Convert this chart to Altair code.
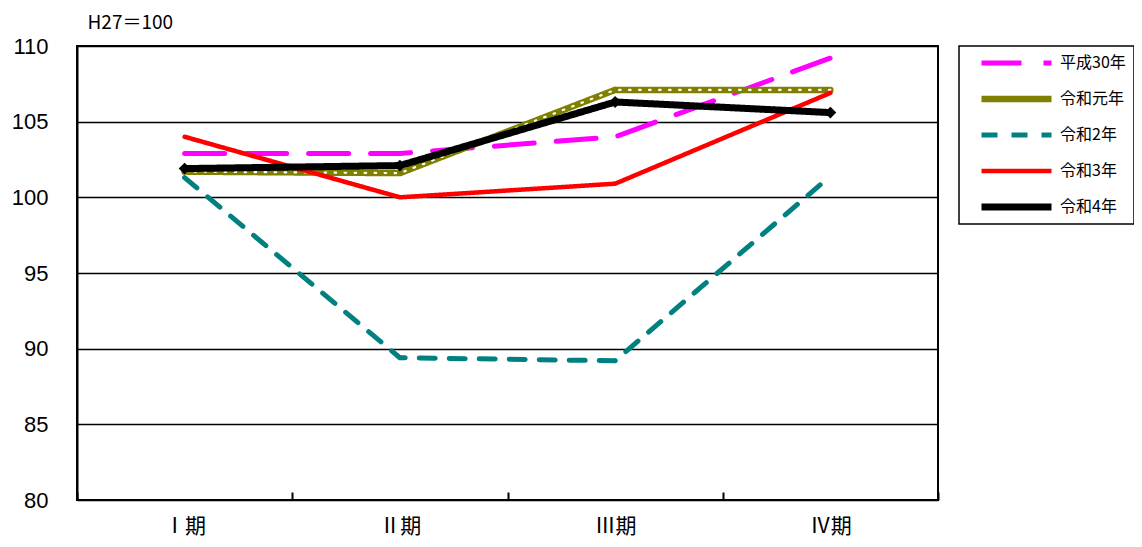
import altair as alt
import pandas as pd

periods = ["Ⅰ期", "Ⅱ期", "Ⅲ期", "Ⅳ期"]
series_names = ["平成30年", "令和元年", "令和2年", "令和3年", "令和4年"]
h30 = [102.9, 102.9, 104.0, 109.2]
r1 = [101.7, 101.6, 107.1, 107.1]
r2 = [101.3, 89.4, 89.2, 101.4]
r3 = [104.0, 100.0, 100.9, 106.9]
r4 = [101.9, 102.1, 106.3, 105.6]
y_ticks = [80, 85, 90, 95, 100, 105, 110]

colors = ["#FF00FF", "#808000", "#008080", "#FF0000", "#000000"]
dashes = [[40, 22], [1, 0], [16, 14], [1, 0], [1, 0]]
widths = [5, 6.5, 5, 4.5, 7]

rows = []
for name, vals in zip(series_names, [h30, r1, r2, r3, r4]):
    for p, v in zip(periods, vals):
        rows.append({"period": p, "series": name, "value": v})
df = pd.DataFrame(rows)

x_enc = alt.X(
    "period:N",
    sort=periods,
    scale=alt.Scale(type="band", paddingInner=0, paddingOuter=0),
    title=None,
    axis=alt.Axis(
        orient="bottom", offset=-8, tickSize=8, tickBand="extent",
        tickColor="black", tickWidth=2, domain=False, labelAngle=0,
        labelFontSize=21, labelFont="Noto Sans CJK JP", labelColor="black",
        labelPadding=15,
    ),
)
y_enc = alt.Y(
    "value:Q",
    scale=alt.Scale(domain=[80, 110], nice=False, zero=False),
    title="H27＝100",
    axis=alt.Axis(
        values=y_ticks, ticks=False, grid=True, gridColor="black", gridWidth=1.5,
        domainColor="black", domainWidth=2, labelFontSize=22,
        labelFont="Liberation Sans", labelColor="black", labelPadding=29,
        titleAngle=0, titleX=10, titleY=-24, titleAlign="left",
        titleBaseline="middle", titleFont="Noto Sans CJK JP", titleFontSize=19,
        titleFontWeight="normal", titleColor="black",
    ),
)

color_enc = alt.Color(
    "series:N",
    scale=alt.Scale(domain=series_names, range=colors),
    legend=alt.Legend(
        title=None, orient="none", legendX=882, legendY=0,
        symbolType="stroke", symbolSize=4900, clipHeight=18, rowPadding=18,
        padding=8, symbolOffset=11, labelOffset=5, labelFontSize=16,
        labelFont="Noto Sans CJK JP", labelColor="black",
        strokeColor="black", fillColor="white",
    ),
)
dash_enc = alt.StrokeDash("series:N", scale=alt.Scale(domain=series_names, range=dashes))
width_enc = alt.StrokeWidth("series:N", scale=alt.Scale(type="ordinal", domain=series_names, range=widths))

base = alt.Chart(df)

layers = []
for name in series_names:
    line = base.transform_filter(alt.datum.series == name).mark_line(
        strokeCap="round", strokeJoin="round"
    ).encode(x=x_enc, y=y_enc, color=color_enc, strokeDash=dash_enc, strokeWidth=width_enc)
    layers.append(line)
    if name == "令和元年":
        dots = base.transform_filter(alt.datum.series == name).mark_line(
            color="white", strokeWidth=2.2, strokeDash=[1.5, 8.5], strokeCap="round"
        ).encode(x=x_enc, y=y_enc)
        layers.append(dots)
    if name == "令和4年":
        pts = base.transform_filter(alt.datum.series == name).mark_point(
            shape="diamond", filled=True, color="black", size=140, opacity=1
        ).encode(x=x_enc, y=y_enc)
        layers.append(pts)

chart = alt.layer(*layers).properties(
    width=861,
    height=454,
    title=alt.TitleParams(
        "生産指数(原指数)の推移", fontSize=28, font="Noto Sans CJK JP",
        fontWeight="bold", offset=36, baseline="alphabetic", anchor="middle",
        color="black",
    ),
    autosize=alt.AutoSizeParams(type="none"),
    padding={"left": 69, "top": 38, "right": 196, "bottom": 39},
).configure_view(stroke="black", strokeWidth=2).configure_legend(strokeWidth=1.5)

chart.save("out.html", embed_options={"renderer": "svg", "actions": False})
